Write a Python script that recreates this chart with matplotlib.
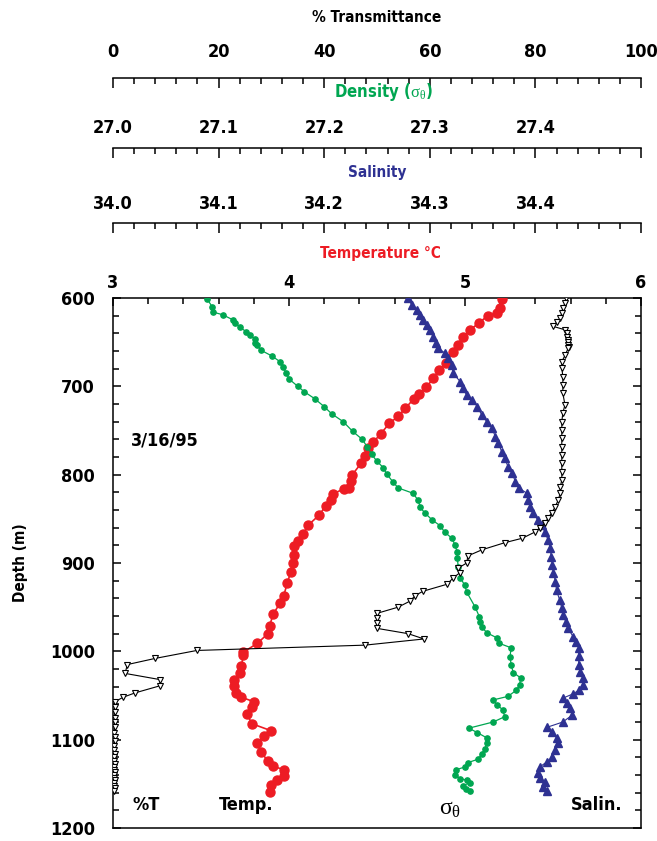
import numpy as np
import matplotlib
matplotlib.use("Agg")
import matplotlib.pyplot as plt
from matplotlib import font_manager as fm
from matplotlib.ticker import MultipleLocator, FixedLocator, FuncFormatter

# pick a narrow sans face if one is available
_fonts = fm.fontManager.ttflist
_names = {f.name for f in _fonts}
if 'Liberation Sans Narrow' in _names:
    plt.rcParams['font.family'] = ['Liberation Sans Narrow', 'DejaVu Sans']
elif any(f.name == 'DejaVu Sans' and 'ondensed' in str(f.stretch) for f in _fonts) or \
        any(f.name == 'DejaVu Sans' and f.stretch == 'condensed' for f in _fonts):
    plt.rcParams['font.family'] = ['DejaVu Sans']
    plt.rcParams['font.stretch'] = 'condensed'
else:
    plt.rcParams['font.family'] = ['Liberation Sans', 'DejaVu Sans']
plt.rcParams['font.weight'] = 'bold'
plt.rcParams['axes.labelweight'] = 'bold'
# thin serif sigma/theta like the original
plt.rcParams['mathtext.fontset'] = 'custom'
plt.rcParams['mathtext.rm'] = 'Liberation Serif:weight=normal'
plt.rcParams['mathtext.it'] = 'Liberation Serif:weight=normal'
plt.rcParams['mathtext.bf'] = 'Liberation Serif:weight=bold'

# Temperature profile (depth m, deg C)
temp_depth = [601, 611, 617, 620, 628, 636, 644, 653, 661, 674, 682, 691, 701, 709,
              714, 725, 734, 742, 754, 763, 770, 779, 787, 800, 807, 815, 816, 822,
              829, 835, 846, 857, 867, 875, 881, 891, 900, 910, 923, 937, 945, 958,
              971, 980, 991, 1001, 1004, 1017, 1025, 1032, 1039, 1047, 1052, 1057,
              1063, 1071, 1082, 1090, 1096, 1104, 1114, 1124, 1130, 1134, 1141, 1146,
              1151, 1159]
temp_val = [5.21, 5.20, 5.18, 5.13, 5.08, 5.03, 4.99, 4.96, 4.93, 4.89, 4.85, 4.82,
            4.78, 4.74, 4.71, 4.66, 4.62, 4.57, 4.52, 4.48, 4.45, 4.43, 4.41, 4.36,
            4.35, 4.34, 4.31, 4.25, 4.24, 4.21, 4.17, 4.11, 4.08, 4.05, 4.03, 4.03,
            4.02, 4.01, 3.99, 3.97, 3.95, 3.91, 3.89, 3.88, 3.82, 3.74, 3.74, 3.73,
            3.72, 3.69, 3.69, 3.70, 3.73, 3.80, 3.79, 3.76, 3.79, 3.90, 3.86, 3.82,
            3.84, 3.88, 3.91, 3.97, 3.97, 3.93, 3.90, 3.89]

# Density (sigma-theta)
dens_depth = [601, 610, 616, 619, 625, 628, 633, 638, 642, 646, 651, 653, 659, 666,
              672, 678, 685, 692, 700, 706, 714, 723, 731, 740, 751, 760, 769, 777,
              785, 792, 799, 808, 815, 821, 829, 837, 843, 851, 858, 865, 872, 880,
              888, 894, 905, 917, 925, 933, 950, 961, 967, 972, 979, 985, 991, 996,
              1006, 1015, 1024, 1030, 1038, 1044, 1051, 1055, 1061, 1066, 1074, 1080,
              1087, 1092, 1098, 1104, 1111, 1116, 1122, 1126, 1131, 1134, 1140, 1144,
              1146, 1149, 1152, 1156, 1158]
dens_val = [27.089, 27.094, 27.095, 27.104, 27.114, 27.116, 27.120, 27.126, 27.130,
            27.134, 27.134, 27.136, 27.140, 27.151, 27.158, 27.161, 27.164, 27.167,
            27.175, 27.181, 27.191, 27.200, 27.207, 27.218, 27.227, 27.236, 27.241,
            27.245, 27.250, 27.256, 27.259, 27.265, 27.270, 27.284, 27.289, 27.291,
            27.295, 27.302, 27.310, 27.314, 27.321, 27.324, 27.326, 27.326, 27.327,
            27.329, 27.333, 27.335, 27.343, 27.347, 27.348, 27.349, 27.354, 27.364,
            27.366, 27.377, 27.376, 27.377, 27.379, 27.386, 27.385, 27.382, 27.374,
            27.360, 27.364, 27.369, 27.371, 27.360, 27.337, 27.345, 27.354, 27.354,
            27.352, 27.349, 27.346, 27.336, 27.333, 27.325, 27.324, 27.329, 27.335,
            27.338, 27.331, 27.334, 27.338]

# Salinity
sal_depth = [600, 608, 614, 619, 625, 631, 636, 644, 651, 657, 662, 668, 676, 685,
             695, 702, 710, 715, 723, 732, 740, 747, 757, 764, 774, 781, 791, 798,
             808, 815, 821, 829, 837, 843, 851, 857, 865, 874, 883, 893, 902, 911,
             921, 931, 942, 951, 959, 967, 974, 984, 989, 996, 1005, 1015, 1023,
             1030, 1038, 1044, 1048, 1053, 1058, 1064, 1072, 1080, 1086, 1091, 1098,
             1104, 1112, 1120, 1125, 1131, 1138, 1143, 1148, 1154, 1158]
sal_val = [34.279, 34.283, 34.288, 34.291, 34.294, 34.297, 34.300, 34.303, 34.306,
           34.308, 34.314, 34.317, 34.321, 34.322, 34.329, 34.331, 34.335, 34.340,
           34.345, 34.349, 34.354, 34.359, 34.362, 34.365, 34.368, 34.371, 34.374,
           34.378, 34.381, 34.384, 34.392, 34.393, 34.395, 34.398, 34.402, 34.406,
           34.409, 34.412, 34.414, 34.415, 34.416, 34.417, 34.419, 34.420, 34.423,
           34.425, 34.426, 34.429, 34.431, 34.436, 34.438, 34.441, 34.441, 34.441,
           34.442, 34.445, 34.445, 34.441, 34.436, 34.426, 34.430, 34.433, 34.435,
           34.426, 34.411, 34.416, 34.420, 34.421, 34.419, 34.416, 34.411, 34.404,
           34.402, 34.404, 34.409, 34.407, 34.411]

# Transmittance (%)
trans_depth = [600, 606, 611, 617, 623, 627, 632, 636, 640, 644, 648, 650, 653, 655,
               657, 665, 672, 679, 689, 698, 708, 721, 730, 740, 749, 758, 769, 778,
               787, 797, 806, 814, 821, 829, 837, 843, 849, 855, 860, 865, 872, 877,
               885, 892, 900, 906, 911, 917, 924, 932, 937, 943, 950, 957, 962, 968,
               974, 980, 986, 993, 999, 1008, 1015, 1025, 1032, 1039, 1047, 1052, 1057,
               1063, 1069, 1075, 1080, 1086, 1092, 1097, 1102, 1107, 1112, 1116, 1120,
               1124, 1128, 1131, 1134, 1137, 1140, 1143, 1146, 1149, 1152, 1155, 1158]
trans_val = [85.8, 85.6, 85.2, 85.0, 84.7, 84.1, 83.3, 85.6, 85.9, 86.0, 86.2, 86.2,
             86.2, 86.3, 86.2, 85.6, 85.0, 85.0, 85.2, 85.2, 85.2, 85.6, 85.2, 85.0,
             85.0, 85.0, 85.0, 85.0, 85.0, 85.0, 85.0, 84.7, 84.7, 84.3, 83.7, 83.1,
             82.4, 81.8, 80.9, 79.9, 77.5, 74.2, 69.9, 67.2, 67.0, 65.3, 65.7, 64.4,
             63.3, 58.7, 57.2, 56.3, 54.0, 50.0, 50.0, 50.0, 50.0, 55.9, 58.9, 47.7,
             15.9, 8.0, 2.7, 2.3, 8.9, 8.9, 4.2, 1.9, 0.4, 0.3, 0.3, 0.4, 0.3, 0.3,
             0.2, 0.3, 0.3, 0.2, 0.2, 0.3, 0.2, 0.2, 0.3, 0.2, 0.2, 0.3, 0.2, 0.2,
             0.3, 0.2, 0.2, 0.3, 0.2]

RED = '#ed1c24'
GREEN = '#00a651'
BLUE = '#2e3192'
FS = 13
TFS = 11

fig = plt.figure(figsize=(6.57, 8.41), dpi=100)
L, W = 113 / 657, 528 / 657
B, H = 13 / 841, 530 / 841

ax = fig.add_axes([L, B, W, H])
ax.set_ylim(1200, 600)
ax.set_xlim(3, 6)
ax.plot(temp_val, temp_depth, '-o', color=RED, ms=6.5, lw=1.2, zorder=3)

def overlay(lo, hi):
    t = ax.twiny()
    t.set_xlim(lo, hi)
    t.set_ylim(1200, 600)
    t.axis('off')
    return t

ad = overlay(27.0, 27.5)
ad.plot(dens_val, dens_depth, '-o', color=GREEN, ms=3.8, lw=0.9)
asl = overlay(34.0, 34.5)
asl.plot(sal_val, sal_depth, '-^', color=BLUE, ms=6, lw=0.8)
at = overlay(0, 100)
at.plot(trans_val, trans_depth, '-v', color='black', mfc='white', mec='black',
        ms=5, mew=0.8, lw=0.8)

# main axes ticks (set after twiny, which moves them)
for s in ax.spines.values():
    s.set_linewidth(1.1)
ax.xaxis.set_ticks_position('top')
ax.xaxis.set_label_position('top')
ax.xaxis.set_major_locator(MultipleLocator(1))
ax.xaxis.set_minor_locator(MultipleLocator(0.2))
ax.yaxis.set_major_locator(MultipleLocator(100))
ax.yaxis.set_minor_locator(MultipleLocator(20))
ax.tick_params(which='both', direction='in', top=True, bottom=False,
               left=True, right=True, labeltop=True, labelbottom=False, width=1.1)
ax.tick_params(which='major', length=6)
ax.tick_params(which='minor', length=4)
ax.tick_params(axis='x', labelsize=FS, pad=4)
ax.tick_params(axis='y', labelsize=FS, pad=13)
ax.set_ylabel('Depth (m)', fontsize=TFS, labelpad=16)

ax.text(3.1, 761, '3/16/95', fontsize=FS, va='center')
ax.text(3.11, 1174, '%T', fontsize=FS, va='center')
ax.text(3.6, 1174, 'Temp.', fontsize=FS, va='center')
ax.text(4.85, 1177, r'$\mathrm{\sigma}_{\mathrm{\theta}}$', fontsize=17, va='center')
ax.text(5.6, 1174, 'Salin.', fontsize=FS, va='center')

# scale bars above the plot
def scale_axis(y_line, lo, hi, major, minor, labels, pad):
    a = fig.add_axes([L, 1 - y_line / 841 - 0.01, W, 0.01])
    a.set_xlim(lo, hi)
    a.patch.set_visible(False)
    for k in ('left', 'right', 'bottom'):
        a.spines[k].set_visible(False)
    a.spines['top'].set_linewidth(1.1)
    a.set_yticks([])
    a.xaxis.set_ticks_position('top')
    a.xaxis.set_major_locator(FixedLocator(major))
    a.xaxis.set_minor_locator(MultipleLocator(minor))
    a.xaxis.set_major_formatter(FuncFormatter(lambda v, p: labels[p] if p < len(labels) else ''))
    a.tick_params(which='both', direction='in', width=1.1, labelsize=FS, pad=pad)
    a.tick_params(which='major', length=7)
    a.tick_params(which='minor', length=4)
    return a

trans_ticks = [0, 20, 40, 60, 80, 100]
dens_ticks = [27.0, 27.1, 27.2, 27.3, 27.4, 27.5]
sal_ticks = [34.0, 34.1, 34.2, 34.3, 34.4, 34.5]
scale_axis(78, 0, 100, trans_ticks, 4, ['0', '20', '40', '60', '80', '100'], 12)
scale_axis(148, 27.0, 27.5, dens_ticks, 0.02, ['27.0', '27.1', '27.2', '27.3', '27.4', ''], 8)
scale_axis(223, 34.0, 34.5, sal_ticks, 0.02, ['34.0', '34.1', '34.2', '34.3', '34.4', ''], 7)

cx = L + W / 2
fig.text(cx, 1 - 18 / 841, '% Transmittance', ha='center', va='center', fontsize=TFS)
fig.text(cx + 0.01, 1 - 92 / 841, r'Density ($\mathrm{\sigma}_{\mathrm{\theta}}$)',
         ha='center', va='center', fontsize=TFS + 1, color=GREEN)
fig.text(cx, 1 - 172 / 841, 'Salinity', ha='center', va='center', fontsize=TFS, color=BLUE)
fig.text(cx + 0.005, 1 - 253 / 841, 'Temperature °C', ha='center', va='center',
         fontsize=TFS, color=RED)

fig.savefig('out.png', dpi=100)
